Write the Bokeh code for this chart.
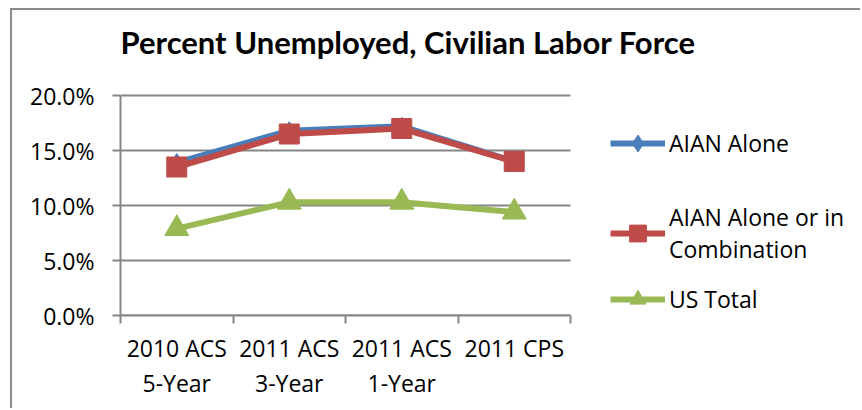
from bokeh.plotting import figure
from bokeh.models import (Range1d, FixedTicker, PrintfTickFormatter, Legend,
                          LegendItem, ColumnDataSource, Label)
from bokeh.embed import file_html
from bokeh.resources import INLINE

# ---- data ----
categories = ["2010 ACS\n5-Year", "2011 ACS\n3-Year", "2011 ACS\n1-Year", "2011 CPS"]
aian_alone = [13.9, 16.8, 17.2, 14.0]
aian_combo = [13.5, 16.5, 17.0, 14.0]
us_total = [7.9, 10.3, 10.3, 9.4]
y_ticks = [0, 5, 10, 15, 20]
series_names = ["AIAN Alone", "AIAN Alone or in\nCombination", "US Total"]
title_text = "Percent Unemployed, Civilian Labor Force"

BLUE = "#4A7EBB"
RED = "#BE4B48"
GREEN = "#98B954"
GRAY = "#868686"
FONT = "Open Sans"

# ---- layout (pixels) ----
CANVAS_W, CANVAS_H = 850, 400        # canvas starts at page (12, 10)
BORDER_L, BORDER_T, BORDER_B = 108, 0, 95
FRAME_W = CANVAS_W - BORDER_L        # frame reaches right and top edges (title/legend inside)
FRAME_H = CANVAS_H - BORDER_T - BORDER_B
PLOT_W, PLOT_H = 450, 220            # visible category area / 0-20% span

n = len(categories)
xpos = [i + 0.5 for i in range(n)]
x_end = n * FRAME_W / PLOT_W
y_end = y_ticks[-1] * FRAME_H / PLOT_H

src = ColumnDataSource(dict(x=xpos, a=aian_alone, c=aian_combo, u=us_total))
grid_src = ColumnDataSource(dict(x0=[0] * len(y_ticks), x1=[n] * len(y_ticks), y=y_ticks))

p = figure(width=CANVAS_W, height=CANVAS_H, output_backend="svg", toolbar_location=None,
           x_range=Range1d(0, x_end), y_range=Range1d(y_ticks[0], y_end),
           min_border_left=BORDER_L, min_border_right=0, min_border_top=BORDER_T,
           min_border_bottom=BORDER_B, margin=(8, 0, 0, 10))
p.styles = {"border-left": "2px solid #8c8c8c", "border-top": "2px solid #8c8c8c"}
p.outline_line_color = None
p.background_fill_color = "white"
p.border_fill_color = "white"

# title (inside the extended frame)
p.add_layout(Label(x=0, y=274, x_units="screen", y_units="screen", text=title_text,
                   text_font="Lato", text_font_style="bold", text_font_size="31px",
                   text_baseline="middle", text_align="left", text_color="black"))

# axes
p.xaxis.ticker = FixedTicker(ticks=xpos, minor_ticks=list(range(n + 1)))
p.xaxis.bounds = (0, n)
p.xaxis.major_label_overrides = {x: c for x, c in zip(xpos, categories)}
p.xaxis.major_tick_out = 0
p.xaxis.major_tick_in = 0
p.xaxis.minor_tick_out = 8
p.xaxis.minor_tick_in = 0
p.xaxis.minor_tick_line_color = GRAY
p.xaxis.minor_tick_line_width = 2
p.xaxis.axis_line_color = GRAY
p.xaxis.axis_line_width = 2
p.xaxis.major_label_text_font = FONT
p.xaxis.major_label_text_font_size = "23px"
p.xaxis.major_label_text_color = "black"
p.xaxis.major_label_text_line_height = 1.1
p.xaxis.major_label_standoff = 8

p.yaxis.ticker = FixedTicker(ticks=y_ticks, minor_ticks=[])
p.yaxis.bounds = (y_ticks[0], y_ticks[-1])
p.yaxis.formatter = PrintfTickFormatter(format="%.1f%%")
p.yaxis.major_tick_out = 8
p.yaxis.major_tick_in = 0
p.yaxis.major_tick_line_color = GRAY
p.yaxis.major_tick_line_width = 2
p.yaxis.axis_line_color = GRAY
p.yaxis.axis_line_width = 2
p.yaxis.minor_tick_line_color = None
p.yaxis.major_label_text_font = FONT
p.yaxis.major_label_text_font_size = "23px"
p.yaxis.major_label_text_color = "black"
p.yaxis.major_label_standoff = 18

p.xgrid.grid_line_color = None
p.ygrid.grid_line_color = None
# horizontal gridlines limited to the category area
p.segment(x0="x0", x1="x1", y0="y", y1="y", source=grid_src, line_color=GRAY, line_width=2)

# series
l1 = p.line("x", "a", source=src, line_color=BLUE, line_width=6)
m1 = p.scatter("x", "a", source=src, marker="diamond", size=18, fill_color=BLUE, line_color=BLUE)
l2 = p.line("x", "c", source=src, line_color=RED, line_width=6)
m2 = p.scatter("x", "c", source=src, marker="square", size=20, fill_color=RED, line_color=RED)
l3 = p.line("x", "u", source=src, line_color=GREEN, line_width=6)
m3 = p.scatter("x", "u", source=src, marker="triangle", size=24, fill_color=GREEN, line_color=GREEN)

def add_legend(label, renderers, loc, gh, lh):
    lg = Legend(items=[LegendItem(label=label, renderers=renderers)],
                location=loc, orientation="vertical",
                glyph_width=55, glyph_height=gh, label_standoff=4,
                padding=0, margin=0, spacing=0,
                border_line_color=None, background_fill_alpha=0,
                label_text_font=FONT, label_text_font_size="23px",
                label_text_color="black", label_text_line_height=lh)
    p.add_layout(lg, "center")

add_legend(series_names[0], [l1, m1], (490, 151), 42, 1.18)
add_legend(series_names[1], [l2, m2], (490, 50), 42, 1.18)
add_legend(series_names[2], [l3, m3], (490, -4), 40, 1.0)

open("out.html", "w").write(file_html(p, INLINE))
